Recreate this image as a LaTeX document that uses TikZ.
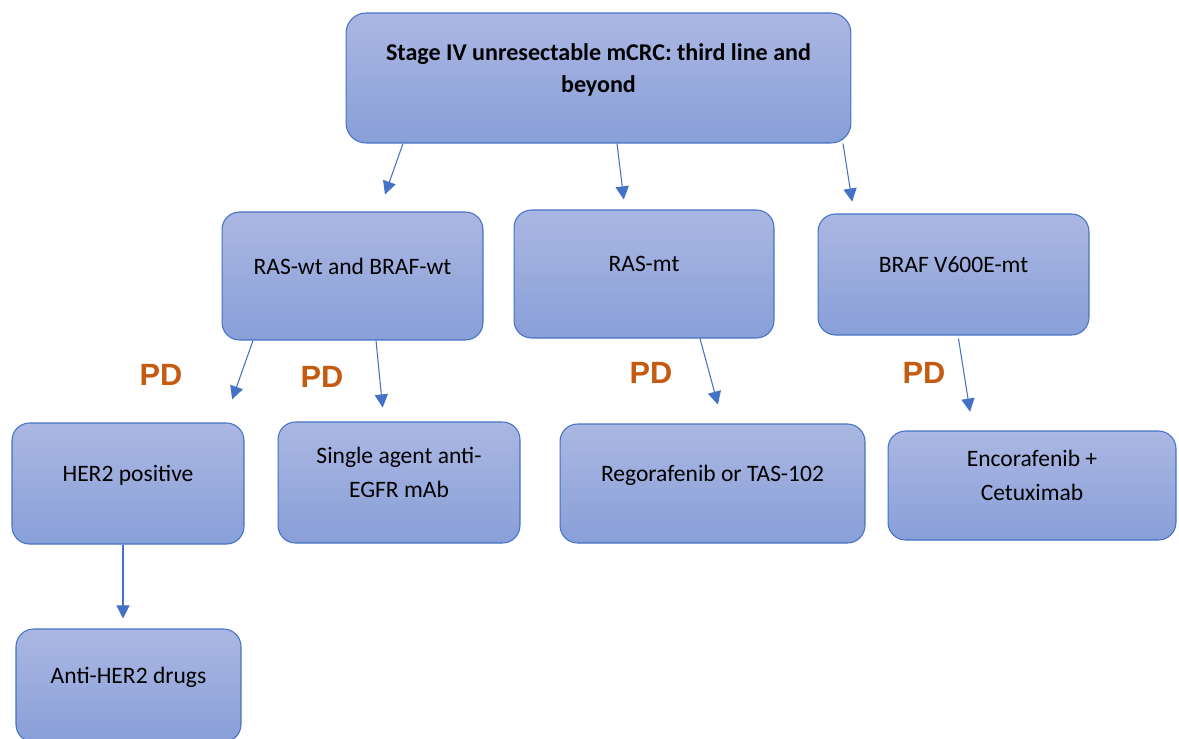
\documentclass[tikz,border=0pt]{standalone}
\usepackage{fontspec}
\setmainfont{Carlito}
\newfontfamily\pdfont{Liberation Sans}
\usetikzlibrary{arrows.meta}
\definecolor{boxtop}{RGB}{170,183,226}
\definecolor{boxbot}{RGB}{137,159,216}
\definecolor{boxline}{RGB}{68,114,196}
\definecolor{pdorange}{RGB}{197,90,17}
\tikzset{
	box/.style={draw=boxline, line width=0.6pt, rounded corners=0.35cm, top color=boxtop, bottom color=boxbot,
		align=center, inner sep=0pt, text depth=0.4cm, font=\fontsize{13.4}{19}\selectfont},
	arr/.style={draw=boxline, line width=0.6pt, -{Triangle[length=7.5pt,width=7.5pt]}},
	pd/.style={text=pdorange, font=\pdfont\bfseries\fontsize{17.5}{20}\selectfont}
}
\begin{document}
\begin{tikzpicture}[x=0.02cm,y=-0.02cm]
		\useasboundingbox (0,0) rectangle (1179,738);
		\node[box, minimum width=10.1cm, minimum height=2.6cm, rounded corners=0.4cm, font=\fontsize{13.7}{18.5}\selectfont\bfseries] (top) at (598.5,78) {Stage IV unresectable mCRC: third line and\\beyond};
		\node[box, minimum width=5.22cm, minimum height=2.56cm] (rasw) at (352.5,276) {RAS-wt and BRAF-wt};
		\node[box, minimum width=5.2cm, minimum height=2.56cm] (rasm) at (644,274) {RAS-mt};
		\node[box, minimum width=5.42cm, minimum height=2.42cm] (braf) at (953.5,274.5) {BRAF V600E-mt};
		\node[box, minimum width=4.64cm, minimum height=2.42cm] (her2) at (128,483.5) {HER2 positive};
		\node[box, minimum width=4.84cm, minimum height=2.42cm] (egfr) at (399,482.5) {Single agent anti-\\EGFR mAb};
		\node[box, minimum width=6.1cm, minimum height=2.38cm] (rego) at (712.5,483.5) {Regorafenib or TAS-102};
		\node[box, minimum width=5.76cm, minimum height=2.18cm] (enco) at (1032,485.5) {Encorafenib +\\Cetuximab};
		\node[box, minimum width=4.5cm, minimum height=2.26cm] (anti) at (128.5,685.5) {Anti-HER2 drugs};
		\node[pd] (pd1) at (161,375) {PD};
		\node[pd] (pd2) at (322,377) {PD};
		\node[pd] (pd3) at (651,373) {PD};
		\node[pd] (pd4) at (924,373) {PD};
		\draw[arr, shorten >=0.36cm] (403,0 |- top.south) -- (379,0 |- rasw.north);
		\draw[arr, shorten >=0.2cm] (617,0 |- top.south) -- (625,0 |- rasm.north);
		\draw[arr, shorten >=0.24cm] (843,0 |- top.south) -- (854,0 |- braf.north);
		\draw[arr, shorten >=0.49cm] (253,0 |- rasw.south) -- (224,0 |- her2.north);
		\draw[arr, shorten >=0.28cm] (376,0 |- rasw.south) -- (384,0 |- egfr.north);
		\draw[arr, shorten >=0.39cm] (700,0 |- rasm.south) -- (723,0 |- rego.north);
		\draw[arr, shorten <=0.06cm, shorten >=0.38cm] (958,0 |- braf.south) -- (973,0 |- enco.north);
		\draw[arr, shorten >=0.2cm] (123,0 |- her2.south) -- (123,0 |- anti.north);
\end{tikzpicture}
\end{document}
